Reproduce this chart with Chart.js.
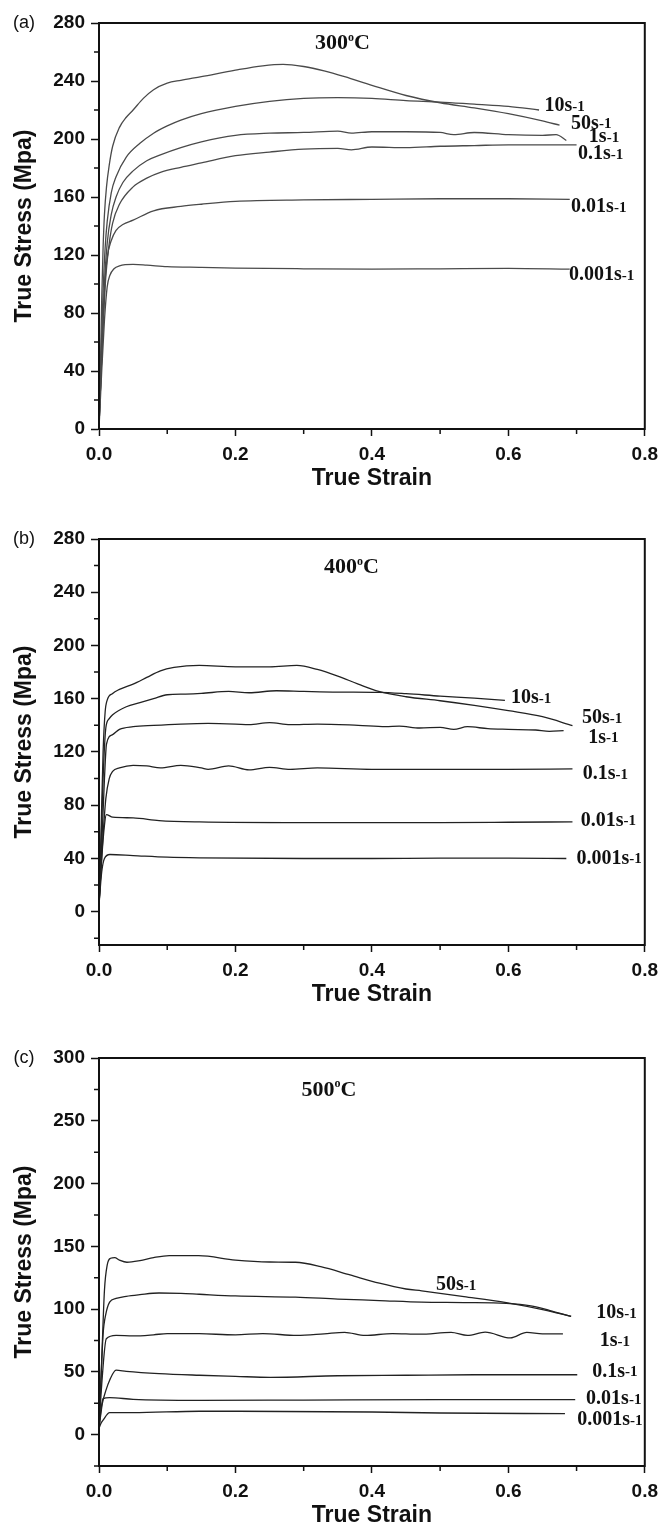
<!DOCTYPE html>
<html>
<head>
<meta charset="utf-8">
<script src="https://cdn.jsdelivr.net/npm/chart.js@4.4.1/dist/chart.umd.min.js"></script>
<style>
  html, body { margin: 0; padding: 0; background: #fff; width: 665px; height: 1524px; overflow: hidden; }
  canvas { position: absolute; left: 0; }
</style>
</head>
<body>
<canvas id="panel-a"></canvas>
<canvas id="panel-b"></canvas>
<canvas id="panel-c"></canvas>
<script>
// ---- data: [true strain, true stress (MPa)] ----

// (a) 300 C
const t300_r50 = [[0,2],[0.002,40],[0.004,90],[0.006,125],[0.008,148],[0.011,167],[0.015,182],[0.02,195],[0.03,208],[0.04,215],[0.05,220],[0.065,228],[0.08,234],[0.1,238.5],[0.12,240.5],[0.15,243],[0.2,247.5],[0.24,250.5],[0.27,251.5],[0.3,250],[0.33,247],[0.36,243],[0.4,237],[0.45,230],[0.5,225],[0.55,221.5],[0.6,217.5],[0.65,212.5],[0.675,209.5]];
const t300_r10 = [[0,2],[0.003,50],[0.006,95],[0.009,125],[0.012,143],[0.018,163],[0.025,174],[0.04,187.5],[0.06,197],[0.08,204],[0.1,209],[0.12,213],[0.15,217.5],[0.2,222.5],[0.25,226],[0.3,228],[0.35,228.5],[0.4,228],[0.45,226.5],[0.5,225.5],[0.55,224],[0.6,222.5],[0.645,220]];
const t300_r1 = [[0,2],[0.004,50],[0.008,100],[0.012,128],[0.018,148],[0.025,160],[0.035,170],[0.05,178],[0.07,185],[0.09,189],[0.12,194],[0.15,198],[0.2,202.5],[0.25,204],[0.3,204.5],[0.35,205.5],[0.37,204],[0.4,205],[0.45,205],[0.5,204.5],[0.52,203],[0.55,204.5],[0.6,203],[0.65,202.5],[0.67,203],[0.685,199]];
const t300_r01 = [[0,2],[0.005,60],[0.01,105],[0.015,128],[0.02,142],[0.03,155],[0.05,167],[0.07,173],[0.09,177],[0.12,180.5],[0.15,183.5],[0.2,188.5],[0.25,191],[0.3,193],[0.35,193.5],[0.37,192.5],[0.4,194.5],[0.45,194],[0.5,195],[0.55,195.5],[0.6,196],[0.65,196],[0.7,196]];
const t300_r001 = [[0,2],[0.004,50],[0.008,95],[0.012,118],[0.018,130],[0.025,137],[0.035,141],[0.05,144],[0.08,150.5],[0.12,153.5],[0.15,155],[0.2,157],[0.3,158],[0.4,158.4],[0.5,158.8],[0.6,158.8],[0.69,158.4]];
const t300_r0001 = [[0,0],[0.004,40],[0.008,75],[0.012,98],[0.016,106],[0.022,110.5],[0.03,112.5],[0.05,113.5],[0.07,113],[0.1,112],[0.15,111.5],[0.2,111],[0.3,110.5],[0.4,110.2],[0.5,110.5],[0.6,110.8],[0.69,110.2]];

// (b) 400 C
const t400_r50 = [[0,5],[0.003,60],[0.006,120],[0.009,150],[0.012,159],[0.02,164],[0.03,167],[0.05,171],[0.07,176],[0.09,181],[0.11,183.5],[0.147,185],[0.2,184],[0.25,184],[0.29,185],[0.32,182],[0.35,177],[0.38,171],[0.41,165.5],[0.45,161.5],[0.5,158.5],[0.55,155],[0.6,151],[0.65,146.5],[0.694,139.8]];
const t400_r10 = [[0,5],[0.003,50],[0.006,100],[0.01,138],[0.015,145],[0.02,148],[0.04,154],[0.06,157],[0.08,160],[0.1,163],[0.127,163.5],[0.15,164],[0.19,165.5],[0.22,164.5],[0.26,166],[0.3,165.5],[0.35,165],[0.41,164.8],[0.45,163.8],[0.5,162],[0.55,160.5],[0.595,158.8]];
const t400_r1 = [[0,5],[0.004,50],[0.008,100],[0.011,126],[0.02,133],[0.03,137],[0.05,139],[0.08,140],[0.12,141],[0.16,141.5],[0.2,141],[0.22,140.5],[0.25,142],[0.28,140.5],[0.32,141],[0.38,140],[0.42,139],[0.44,139.5],[0.47,138],[0.5,138.5],[0.52,137],[0.54,139],[0.57,137.5],[0.6,137],[0.64,136.5],[0.66,135.5],[0.681,136]];
const t400_r01 = [[0,5],[0.005,50],[0.01,85],[0.015,100],[0.02,105.5],[0.03,108],[0.05,110],[0.07,109.5],[0.09,108],[0.12,110],[0.15,108],[0.16,107],[0.19,109.5],[0.22,106.5],[0.25,108.5],[0.28,107],[0.32,108],[0.4,107],[0.5,107],[0.6,107],[0.694,107.3]];
const t400_r001 = [[0,5],[0.004,40],[0.008,65],[0.0107,73],[0.02,71],[0.05,70.5],[0.088,68.5],[0.147,67.5],[0.3,67],[0.4,67],[0.5,67],[0.6,67.2],[0.694,67.5]];
const t400_r0001 = [[0,5],[0.004,30],[0.008,40],[0.016,43],[0.05,42.2],[0.1,41],[0.147,40.5],[0.3,40],[0.4,40],[0.5,40.3],[0.6,40.2],[0.685,40]];

// (c) 500 C
const t500_r50 = [[0,5],[0.004,60],[0.008,115],[0.012,135],[0.017,140.5],[0.023,141],[0.03,139],[0.041,137.3],[0.06,138.6],[0.08,141],[0.103,142.6],[0.146,142.6],[0.2,139],[0.25,137.5],[0.288,137.3],[0.325,133.8],[0.368,127.2],[0.411,120.6],[0.45,116],[0.473,114.5],[0.535,110],[0.597,105.2],[0.652,99.4],[0.692,94.1]];
const t500_r10 = [[0,5],[0.003,45],[0.006,80],[0.01,96],[0.0156,105.6],[0.025,108.5],[0.04,110.2],[0.06,111.5],[0.088,112.8],[0.12,112.5],[0.147,111.8],[0.2,110.5],[0.288,109.5],[0.35,108],[0.411,106.8],[0.473,105.5],[0.535,105.2],[0.597,104.5],[0.633,102.5],[0.66,99],[0.692,94.1]];
const t500_r1 = [[0,5],[0.004,40],[0.0107,76.4],[0.025,79.1],[0.05,78.6],[0.08,79.5],[0.1,80.5],[0.147,80.4],[0.2,79.5],[0.24,80.5],[0.29,79],[0.33,80.3],[0.36,81.5],[0.39,79],[0.43,80.5],[0.47,80],[0.516,81.4],[0.54,79],[0.566,81.6],[0.603,77],[0.627,81.4],[0.65,80.3],[0.68,80.3]];
const t500_r01 = [[0,5],[0.005,25],[0.01,35],[0.0156,43.3],[0.025,51.3],[0.04,50.4],[0.088,48.6],[0.147,47.3],[0.2,46.4],[0.251,45.6],[0.35,46.9],[0.45,47.3],[0.55,47.7],[0.701,47.7]];
const t500_r001 = [[0,5],[0.003,20],[0.006,28.7],[0.0156,29.5],[0.05,28.1],[0.147,27.3],[0.3,27.5],[0.5,27.8],[0.698,27.8]];
const t500_r0001 = [[0,5],[0.003,9],[0.006,11.5],[0.0156,17.5],[0.05,17.5],[0.147,18.6],[0.2,18.6],[0.4,18],[0.5,17.2],[0.683,16.7]];

// rate names, same order as the series above
const rateNames = ['50s-1', '10s-1', '1s-1', '0.1s-1', '0.01s-1', '0.001s-1'];

// tick labels
const xTicks = [0, 0.2, 0.4, 0.6, 0.8];
const xMinor = [0.1, 0.3, 0.5, 0.7];
const yTicks300 = [0, 40, 80, 120, 160, 200, 240, 280];
const yTicks400 = [0, 40, 80, 120, 160, 200, 240, 280];
const yTicks500 = [0, 50, 100, 150, 200, 250, 300];

// where the rate labels sit, in data units (left edge, middle)
const labelAt300 = [[0.692, 210.7], [0.653, 222.6], [0.718, 201.5], [0.702, 189.6], [0.692, 153.3], [0.689, 106]];
const labelAt400 = [[0.708, 145.5], [0.604, 160.5], [0.717, 131], [0.709, 103.5], [0.706, 68.5], [0.700, 40]];
const labelAt500 = [[0.494, 119.3], [0.729, 96.7], [0.734, 74.7], [0.723, 50.4], [0.714, 28.4], [0.701, 11.4]];

const INK = '#111';
const SANS = '"Liberation Sans", Arial, sans-serif';
const SERIF = '"Liberation Serif", "Times New Roman", serif';

function minorsOf(major, min) {
  const out = [];
  for (let i = 1; i < major.length; i++) out.push((major[i - 1] + major[i]) / 2);
  const below = major[0] - (major[1] - major[0]) / 2;
  if (below >= min) out.push(below);
  return out;
}

const panelDecor = {
  id: 'panelDecor',
  afterDraw(chart, args, o) {
    const { ctx, chartArea: a, scales: { x, y } } = chart;
    ctx.save();
    ctx.strokeStyle = INK;
    ctx.lineWidth = 2;
    ctx.strokeRect(a.left, a.top, a.right - a.left, a.bottom - a.top);

    // minor ticks
    ctx.lineWidth = 1.5;
    ctx.beginPath();
    o.yMinor.forEach(v => {
      const py = y.getPixelForValue(v);
      ctx.moveTo(a.left - 5, py); ctx.lineTo(a.left, py);
    });
    xMinor.forEach(v => {
      const px = x.getPixelForValue(v);
      ctx.moveTo(px, a.bottom); ctx.lineTo(px, a.bottom + 5);
    });
    ctx.stroke();

    ctx.fillStyle = INK;
    ctx.textBaseline = 'middle';

    // (a) / (b) / (c)
    ctx.font = '18px ' + SANS;
    ctx.textAlign = 'center';
    ctx.fillText(o.letter, 24, a.top);

    // temperature, with a raised "o"
    ctx.textAlign = 'left';
    const big = 'bold 22px ' + SERIF, small = 'bold 12px ' + SERIF;
    ctx.font = big;
    const wNum = ctx.measureText(o.temp).width, wC = ctx.measureText('C').width;
    ctx.font = small;
    const wO = ctx.measureText('o').width;
    let tx = x.getPixelForValue(o.tempAt[0]) - (wNum + wO + wC) / 2;
    const ty = y.getPixelForValue(o.tempAt[1]);
    ctx.font = big; ctx.fillText(o.temp, tx, ty); tx += wNum;
    ctx.font = small; ctx.fillText('o', tx, ty - 6); tx += wO;
    ctx.font = big; ctx.fillText('C', tx, ty);

    // strain-rate labels
    rateNames.forEach((name, i) => {
      const cut = name.indexOf('-');
      const head = name.slice(0, cut), tail = name.slice(cut);
      let lx = x.getPixelForValue(o.labelAt[i][0]);
      const ly = y.getPixelForValue(o.labelAt[i][1]);
      ctx.font = 'bold 20px ' + SERIF;
      ctx.fillText(head, lx, ly);
      lx += ctx.measureText(head).width;
      ctx.font = 'bold 15px ' + SERIF;
      ctx.fillText(tail, lx, ly + 1);
    });
    ctx.restore();
  }
};

function makePanel(id, top, plotH, series, yTicks, yMin, yMax, decor, lineColor) {
  const canvas = document.getElementById(id);
  canvas.width = 665;
  canvas.height = 23 + plotH + 63;
  canvas.style.top = top + 'px';

  return new Chart(canvas, {
    type: 'scatter',
    data: {
      datasets: series.map((pts, i) => ({
        label: rateNames[i],
        data: pts.map(p => ({ x: p[0], y: p[1] })),
        showLine: true,
        borderColor: lineColor,
        borderWidth: 1.3,
        pointRadius: 0,
        cubicInterpolationMode: 'monotone'
      }))
    },
    options: {
      responsive: false,
      animation: false,
      devicePixelRatio: 1,
      layout: { padding: { top: 23, right: 16, bottom: 0, left: 0 } },
      plugins: {
        legend: { display: false },
        tooltip: { enabled: false },
        panelDecor: decor
      },
      scales: {
        x: {
          type: 'linear', min: 0, max: 0.8,
          afterBuildTicks: s => { s.ticks = xTicks.map(v => ({ value: v })); },
          afterFit: s => { s.height = 63; },
          ticks: {
            autoSkip: false, maxRotation: 0, padding: 7, color: INK,
            font: { family: SANS, size: 19, weight: 'bold' },
            callback: v => v.toFixed(1)
          },
          grid: { drawOnChartArea: false, drawTicks: true, tickLength: 7, tickWidth: 1.5, tickColor: INK },
          border: { display: true, color: INK, width: 2 },
          title: {
            display: true, text: 'True Strain', color: INK,
            font: { family: SANS, size: 23, weight: 'bold' },
            padding: { top: 0, bottom: 0 }
          }
        },
        y: {
          type: 'linear', min: yMin, max: yMax,
          afterBuildTicks: s => { s.ticks = yTicks.map(v => ({ value: v })); },
          afterFit: s => { s.width = 99; },
          ticks: {
            autoSkip: false, padding: 6, color: INK,
            font: { family: SANS, size: 19, weight: 'bold' },
            callback: v => String(v)
          },
          grid: { drawOnChartArea: false, drawTicks: true, tickLength: 8, tickWidth: 1.5, tickColor: INK },
          border: { display: true, color: INK, width: 2 },
          title: {
            display: true, text: 'True Stress (Mpa)', color: INK,
            font: { family: SANS, size: 23, weight: 'bold' },
            padding: { top: 11, bottom: 0 }
          }
        }
      }
    },
    plugins: [panelDecor]
  });
}

makePanel('panel-a', 0, 406,
  [t300_r50, t300_r10, t300_r1, t300_r01, t300_r001, t300_r0001],
  yTicks300, 0, 280,
  { letter: '(a)', temp: '300', tempAt: [0.357, 265.8], labelAt: labelAt300, yMinor: minorsOf(yTicks300, 0) },
  '#4a4a4a');

makePanel('panel-b', 516, 406,
  [t400_r50, t400_r10, t400_r1, t400_r01, t400_r001, t400_r0001],
  yTicks400, -25, 280,
  { letter: '(b)', temp: '400', tempAt: [0.370, 258.5], labelAt: labelAt400, yMinor: minorsOf(yTicks400, -25) },
  '#222');

makePanel('panel-c', 1035, 408,
  [t500_r50, t500_r10, t500_r1, t500_r01, t500_r001, t500_r0001],
  yTicks500, -25, 300,
  { letter: '(c)', temp: '500', tempAt: [0.337, 274.5], labelAt: labelAt500, yMinor: minorsOf(yTicks500, -25) },
  '#222');
</script>
</body>
</html>
